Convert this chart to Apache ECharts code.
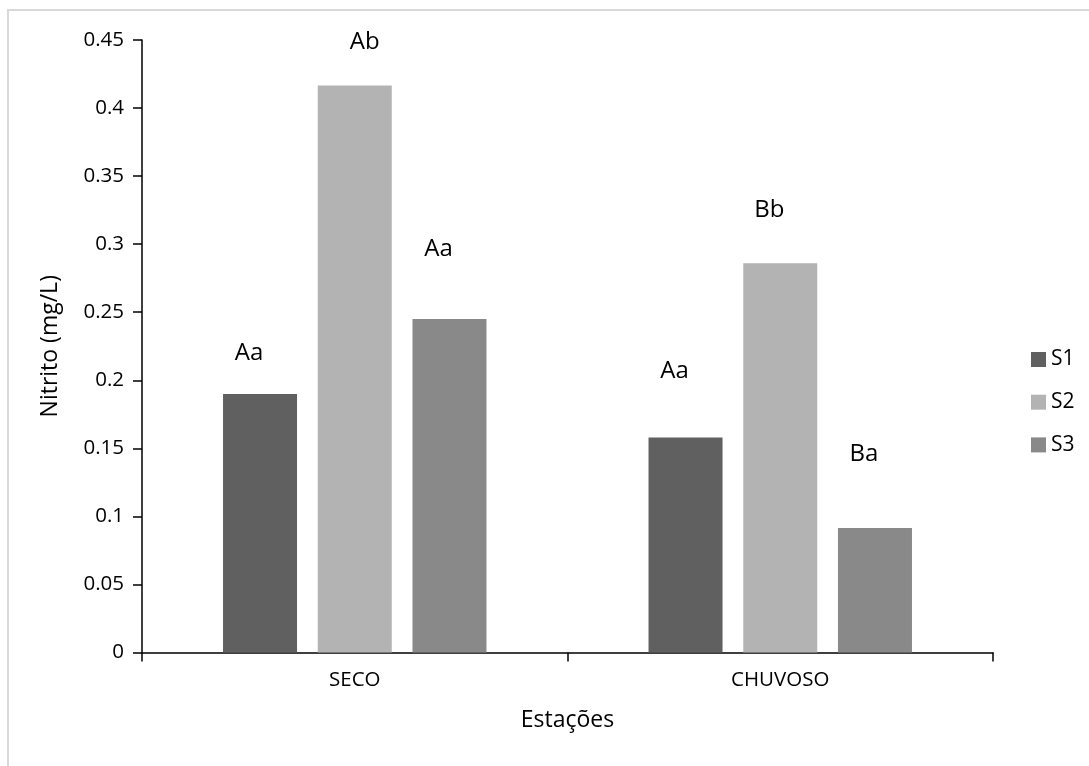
<!DOCTYPE html>
<html>
<head>
<meta charset="utf-8">
<script src="https://cdn.jsdelivr.net/npm/echarts@6/dist/echarts.min.js"></script>
<style>
html,body{margin:0;padding:0;background:#fff;}
#chart{width:1089px;height:766px;}
</style>
</head>
<body>
<div id="chart"></div>
<script>
const categories = ['SECO', 'CHUVOSO'];
const seriesNames = ['S1', 'S2', 'S3'];
const s1Values = [0.190, 0.158];
const s2Values = [0.4165, 0.286];
const s3Values = [0.245, 0.0915];
// letter labels and the heights (mg/L) where their centres sit
const s1Letters = ['Aa', 'Aa'];
const s2Letters = ['Ab', 'Bb'];
const s3Letters = ['Aa', 'Ba'];
const s1LetterHeights = [0.2206, 0.2072];
const s2LetterHeights = [0.449, 0.3259];
const s3LetterHeights = [0.297, 0.1462];
const yTicks = { min: 0, max: 0.45, interval: 0.05 };

const colors = ['#606060', '#b3b3b3', '#898989'];
const FONT = 'Open Sans';

const values = [s1Values, s2Values, s3Values];
const letters = [s1Letters, s2Letters, s3Letters];
const letterHeights = [s1LetterHeights, s2LetterHeights, s3LetterHeights];

const series = [];
seriesNames.forEach((name, i) => {
  series.push({
    name: name,
    type: 'bar',
    stack: 'st' + i,
    barWidth: 74,
    barGap: '28%',
    itemStyle: { color: colors[i] },
    data: values[i],
    z: 2
  });
});
seriesNames.forEach((name, i) => {
  series.push({
    name: name + '_lbl',
    type: 'bar',
    stack: 'st' + i,
    barWidth: 74,
    barGap: '28%',
    itemStyle: { color: 'rgba(0,0,0,0)' },
    silent: true,
    data: values[i].map((v, j) => ({
      value: letterHeights[i][j] - v,
      label: {
        show: true,
        position: 'top',
        distance: 0,
        formatter: letters[i][j],
        offset: (i === 1 && j === 0) ? [10, 13] : [-11, 13]
      }
    })),
    label: {
      fontFamily: FONT,
      fontSize: 24,
      color: '#000'
    },
    z: 3
  });
});

const chart = echarts.init(document.getElementById('chart'), null, { renderer: 'canvas' });
chart.setOption({
  animation: false,
  backgroundColor: '#fff',
  graphic: [{
    type: 'rect',
    shape: { x: 8, y: 10, width: 1300, height: 1000 },
    style: { fill: 'none', stroke: '#d9d9d9', lineWidth: 2 },
    silent: true,
    z: -10
  }],
  grid: { left: 142, right: 96, top: 40, bottom: 113.5, containLabel: false },
  legend: {
    data: seriesNames,
    orient: 'vertical',
    left: 1026,
    top: 344,
    itemWidth: 15,
    itemHeight: 15,
    itemGap: 21.7,
    icon: 'rect',
    textStyle: { fontFamily: FONT, fontSize: 21, color: '#000', lineHeight: 15 }
  },
  xAxis: {
    type: 'category',
    data: categories,
    name: 'Estações',
    nameLocation: 'middle',
    nameGap: 56,
    nameTextStyle: { fontFamily: FONT, fontSize: 23, color: '#000' },
    axisLine: { lineStyle: { color: '#000', width: 1.5 } },
    axisTick: { show: true, length: 9, lineStyle: { color: '#000', width: 1.5 } },
    axisLabel: { fontFamily: FONT, fontSize: 20.5, color: '#000', margin: 17 },
    splitLine: { show: false }
  },
  yAxis: {
    type: 'value',
    min: yTicks.min,
    max: yTicks.max,
    interval: yTicks.interval,
    name: 'Nitrito (mg/L)',
    nameLocation: 'middle',
    nameRotate: 90,
    nameGap: 80,
    nameTextStyle: { fontFamily: FONT, fontSize: 23, color: '#000' },
    axisLine: { show: true, lineStyle: { color: '#000', width: 1.5 } },
    axisTick: { show: true, length: 9, lineStyle: { color: '#000', width: 1.5 } },
    axisLabel: { fontFamily: FONT, fontSize: 20.5, color: '#000', margin: 18 },
    splitLine: { show: false }
  },
  series: series
});
</script>
</body>
</html>
